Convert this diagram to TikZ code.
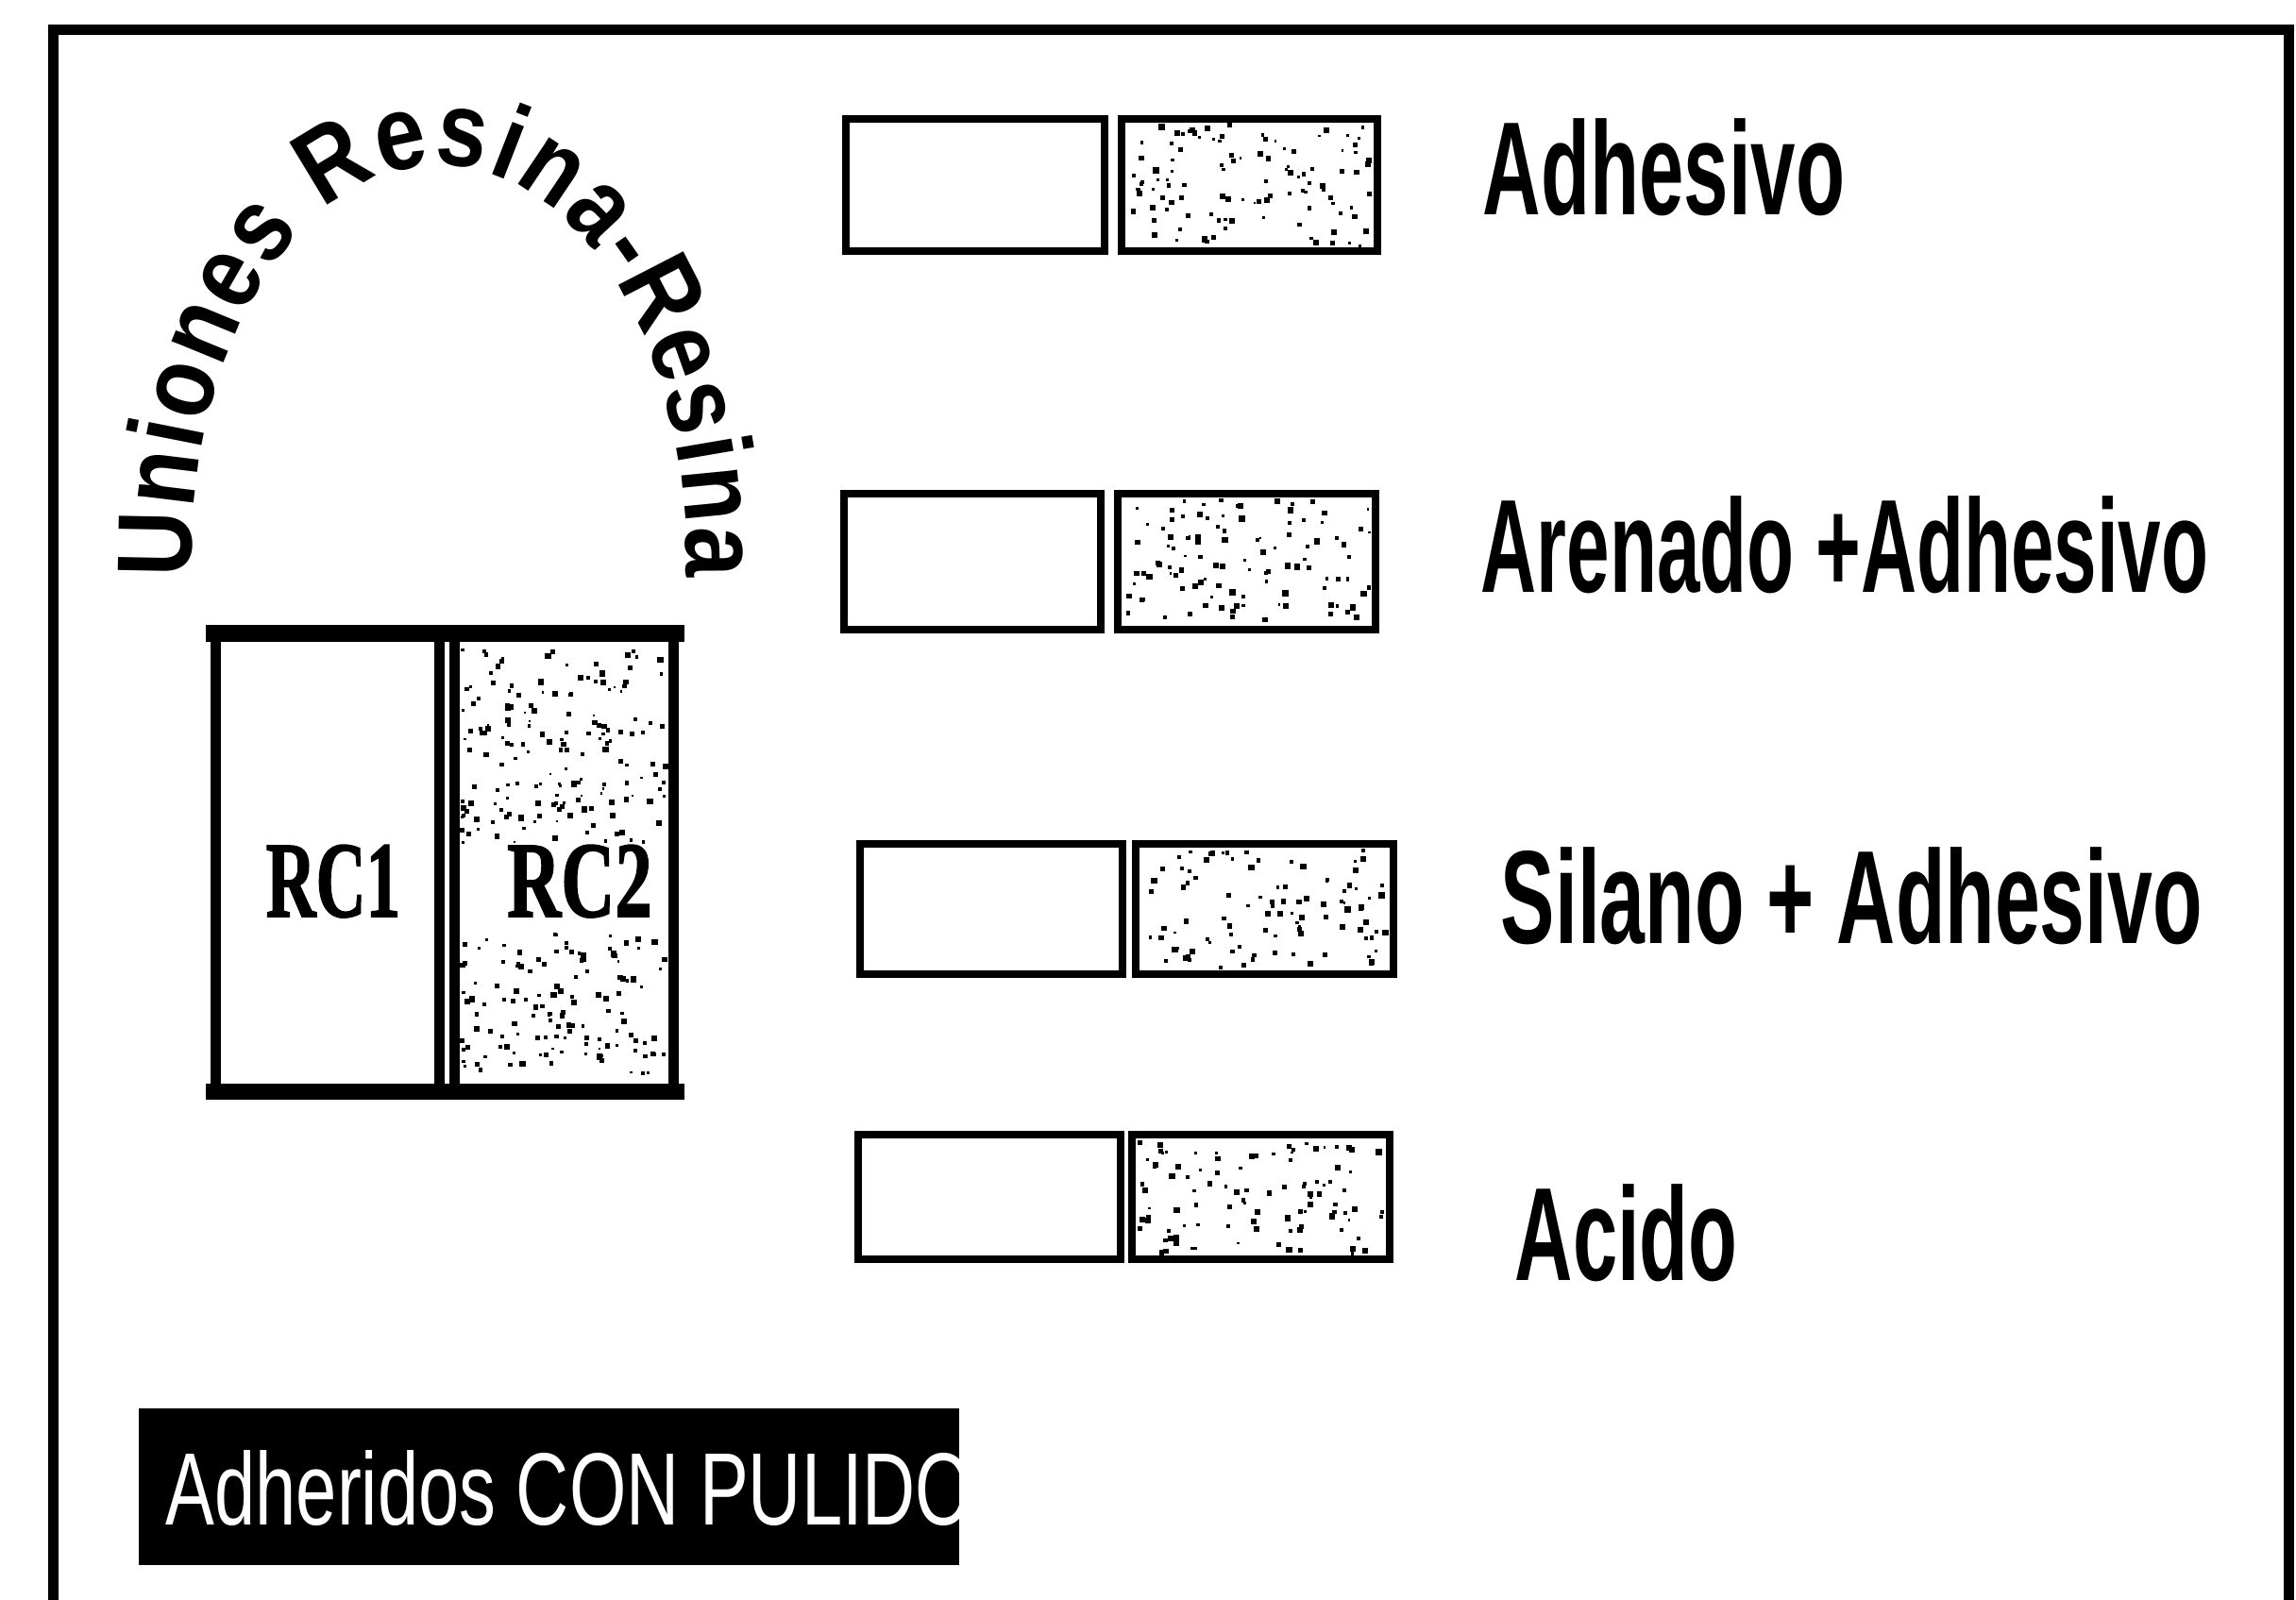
\documentclass[tikz,border=0pt]{standalone}
\usepackage{fontspec}
\usepackage{graphicx}
\usetikzlibrary{decorations.text,calc}
\newfontfamily\lsans{Liberation Sans}
\newfontfamily\lserif{Liberation Serif}
\newfontfamily\archfont{Liberation Sans}[FakeStretch=0.85]
\newfontfamily\rcfont{Liberation Serif}[FakeBold=1.5]
\newcommand\speckfill[5]{%
  \foreach \k in {1,...,#5}{%
    \pgfmathsetmacro\sps{0.025+0.04*rnd}%
    \pgfmathsetmacro\spx{#1+rnd*(#3-#1-\sps)}%
    \pgfmathsetmacro\spy{#2+rnd*(#4-#2-\sps)}%
    \fill (\spx,\spy) rectangle ++(\sps,\sps);%
  }}
\begin{document}
\begin{tikzpicture}[
  pairbox/.style={draw, line width=0.08cm, inner sep=0pt},
  rcbox/.style={draw, line width=0.11cm, inner sep=0pt, minimum height=4.81cm},
  lbl/.style={anchor=base west, inner sep=0pt, font=\lsans\bfseries\fontsize{40}{44}\selectfont},
  rclbl/.style={anchor=base, inner sep=0pt, font=\rcfont\bfseries\fontsize{32.6}{36}\selectfont},
]
\useasboundingbox (0,0) rectangle (24.32,-16.95);
\fill[white] (0,0) rectangle (24.32,-16.95);
\pgfmathsetseed{11}
% frame
\draw[line width=0.11cm] (0.56,-16.95) -- (0.56,-0.32) -- (24.24,-0.32) -- (24.24,-16.95);

% arched title
\path[decorate, decoration={text along path,
  text={|\archfont\bfseries\fontsize{32}{36}\selectfont|Uniones Resina-Resina},
  text align={fit to path}}]
  (2.034,-6.117) arc[start angle=183, end angle=-3, x radius=2.62, y radius=4.15];

% RC boxes
\speckfill{4.87}{-8.95}{7.08}{-6.86}{170}
\speckfill{4.87}{-11.41}{7.08}{-9.85}{130}
\node[rcbox, minimum width=2.37cm] (rc1) at (3.47,-9.14) {};
\node[rcbox, minimum width=2.32cm] (rc2) at (5.975,-9.14) {};
\fill ([shift={(-0.055,0.055)}]rc1.north west) rectangle ([shift={(0.055,-0.125)}]rc1.north east);
\fill ([shift={(-0.055,-0.055)}]rc1.south west) rectangle ([shift={(0.055,0.125)}]rc1.south east);
\fill ([shift={(-0.055,0.055)}]rc2.north west) rectangle ([shift={(0.055,-0.125)}]rc2.north east);
\fill ([shift={(-0.055,-0.055)}]rc2.south west) rectangle ([shift={(0.055,0.125)}]rc2.south east);
\node[rclbl] (rc1t) at (3.53,-9.71) {\scalebox{0.64}[1]{RC1}};
\node[rclbl] (rc2t) at (6.14,-9.71) {\scalebox{0.69}[1]{RC2}};

% pairs
\speckfill{11.92}{-2.62}{14.55}{-1.30}{110}
\node[pairbox, minimum width=2.74cm, minimum height=1.40cm] (p1l) at (10.33,-1.96) {};
\node[pairbox, minimum width=2.71cm, minimum height=1.40cm] (p1r) at (13.235,-1.96) {};

\speckfill{11.88}{-6.63}{14.53}{-5.27}{110}
\node[pairbox, minimum width=2.72cm, minimum height=1.44cm] (p2l) at (10.30,-5.95) {};
\node[pairbox, minimum width=2.73cm, minimum height=1.44cm] (p2r) at (13.205,-5.95) {};

\speckfill{12.07}{-10.28}{14.72}{-8.98}{100}
\node[pairbox, minimum width=2.78cm, minimum height=1.38cm] (p3l) at (10.50,-9.63) {};
\node[pairbox, minimum width=2.73cm, minimum height=1.38cm] (p3r) at (13.395,-9.63) {};

\speckfill{12.03}{-13.30}{14.68}{-12.06}{100}
\node[pairbox, minimum width=2.78cm, minimum height=1.32cm] (p4l) at (10.48,-12.68) {};
\node[pairbox, minimum width=2.73cm, minimum height=1.32cm] (p4r) at (13.355,-12.68) {};

% labels
\node[lbl] (t1) at (15.70,-2.28) {\scalebox{0.606}[1]{Adhesivo}};
\node[lbl] (t2) at (15.68,-6.28) {\scalebox{0.582}[1]{Arenado +Adhesivo}};
\node[lbl] (t3) at (15.89,-9.99) {\scalebox{0.612}[1]{Silano + Adhesivo}};
\node[lbl] (t4) at (16.04,-13.56) {\scalebox{0.604}[1]{Acido}};

% black label
\node[fill=black, inner sep=0pt, minimum width=8.69cm, minimum height=1.66cm] (blk) at (5.815,-15.75) {};
\begin{scope}
  \clip (blk.south west) rectangle (blk.north east);
  \node[anchor=base west, inner sep=0pt, text=white, font=\lsans\fontsize{31}{34}\selectfont] (blkt) at (1.75,-16.15) {\scalebox{0.713}[1]{Adheridos CON PULIDO}};
\end{scope}
\end{tikzpicture}
\end{document}
